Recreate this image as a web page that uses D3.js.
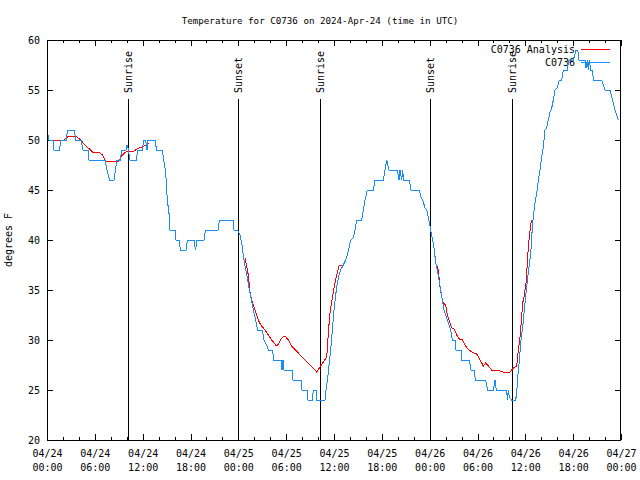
<!DOCTYPE html>
<html><head><meta charset="utf-8">
<script src="https://cdn.jsdelivr.net/npm/d3@7"></script>
<style>body{margin:0;background:#fff}svg{display:block}text{font-family:"DejaVu Sans Mono",monospace;fill:#000}</style>
</head><body><svg id="c" width="640" height="480"></svg>
<script>
// ---- data (hours since 2024-04-24 00:00 UTC) ----
const obsHours = [0.0,0.25,0.75,0.88,1.59,1.69,2.45,2.55,3.45,3.58,4.27,4.52,5.14,5.27,7.28,7.53,7.84,8.40,8.59,8.78,
9.22,9.35,9.91,10.04,10.22,10.41,11.23,11.35,11.98,12.10,12.36,12.54,12.67,13.55,13.74,14.49,14.55,14.89,15.09,15.30,
15.43,16.06,16.18,16.56,16.75,17.44,17.62,18.44,18.63,18.82,19.69,19.88,21.45,21.64,23.33,23.46,23.90,24.21,24.46,24.71,
24.93,25.18,25.38,25.63,25.88,26.18,26.43,27.01,27.22,27.56,27.76,28.31,28.41,29.35,29.48,29.60,29.73,30.73,30.86,31.86,
31.99,32.61,32.74,33.30,33.40,33.74,33.83,34.87,35.00,35.19,35.37,35.59,35.79,36.00,36.21,36.42,36.63,36.84,37.17,37.47,
37.67,37.88,38.10,38.42,38.64,38.85,39.48,39.68,39.89,40.18,40.93,41.14,42.19,42.40,42.61,42.74,42.90,43.94,44.15,44.28,
44.49,44.62,44.72,45.45,45.66,46.70,46.91,47.20,47.42,47.63,47.83,48.13,48.38,48.58,48.76,48.96,49.17,49.39,49.59,49.80,
50.01,50.21,50.43,50.64,50.84,51.18,51.30,51.93,52.02,52.97,53.19,53.60,53.73,55.03,55.28,55.98,56.20,56.36,57.66,57.74,
57.87,57.99,58.29,58.79,58.92,59.04,59.25,59.46,59.67,59.87,60.09,60.30,60.50,60.68,60.88,61.00,61.21,61.43,61.63,61.84,
62.05,62.26,62.47,62.68,62.88,63.10,63.31,63.51,63.72,64.01,64.26,64.56,64.76,65.31,65.39,66.02,66.36,66.57,66.73,67.49,
67.61,67.78,67.90,68.03,68.20,68.43,68.53,69.58,69.99,70.62,70.84,71.04,71.25,71.46,71.67];
const obsTemps = [51,50,50,49,49,50,50,51,51,50,50,49,49,48,48,47,46,46,47,48,
48,49,49,49.5,49,48,48,49,49,50,50,49,50,50,49,49,48.5,46.7,44,42.7,
41,41,40,40,39,39,40,40,39,40,40,41,41,42,42,41,41,40.5,39.5,38,
37,36,35,34,33,32,31,31,30,29.5,29,29,28,28,27,28,27,27,26,26,
25,25,24,24,25,25,24,24,25,26,27.5,29,31,33,34.5,35.7,36.5,37,37.5,38,
38.5,39.2,40,40.2,41,42,42,43,44,45,45,46,46,47,48,47.5,47,47,46,47,
46,47,46,46,45,45,44.3,43.8,43.2,43,42.3,41,40,39,37.7,37,36,35,34,33,
32.5,32,31.5,31,30,30,29,29,28,28,27,27,26,26,25,25,26,25,25,24,
25,24.3,24,24,24.8,26.2,28,30,31.3,33,34.7,36.3,37.5,38.7,41.3,42.3,43.7,44.7,46,47,
48.3,49.3,51,51.2,52,52.8,53.2,54,55,55.2,56,56,57,57,58,58,59,59,58,58,
57.2,58,57,58,57,57,56,56,55,55,54.3,53.7,53,52.5,52];

// analysis series: null marks a gap between segments
const anaHours = [0.38,2.13,2.55,3.60,4.23,4.73,5.48,5.68,6.52,6.94,7.36,7.78,8.12,9.03,9.45,9.87,10.50,10.91,11.54,11.95,12.38,12.79,
null,
24.84,25.25,25.46,25.68,26.09,26.51,26.81,27.35,27.76,28.19,28.69,28.94,29.44,29.85,30.27,30.69,31.32,31.74,32.36,32.99,33.40,33.83,34.24,34.66,35.09,35.19,35.37,35.50,35.71,35.91,36.13,36.34,36.63,36.97,
null,
48.76,49.09,49.30,49.51,49.71,50.01,50.21,50.43,50.76,51.09,51.39,51.72,52.14,52.65,53.27,53.90,54.32,54.73,55.03,55.57,55.78,56.41,57.24,58.08,58.49,58.92,59.12,59.33,59.54,59.67,59.83,60.09,60.25,60.38,60.50,60.68,60.78];
const anaTemps = [50,50,50.3,50.4,50,49.5,49,48.8,48.8,48.5,47.9,47.8,47.9,47.9,48.5,48.8,48.9,48.9,49.2,49.3,49.5,49.7,
null,
38.2,36.5,34.8,34,33,32,31.5,31,30.5,30,29.5,29.5,30.2,30.4,30,29.4,28.9,28.5,28,27.5,27.2,26.8,27.3,27.8,28.3,29.5,31.5,32.7,33.8,34.8,35.7,36.5,37.4,37.5,
null,
37.7,37,35.3,34.3,33.7,33.5,32.5,32,31.2,31.1,30.5,30.1,30,29.2,28.8,28.6,28,27.4,27.7,27.2,27,27,26.8,26.8,27.2,27.4,29,30.3,32.3,33.7,34.3,35.7,37.7,39.3,40.3,41.5,42];

const eventHours = [10.16, 23.96, 34.24, 47.98, 58.27];
const eventLabels = ["Sunrise","Sunset","Sunrise","Sunset","Sunrise"];
const yTicks = [20,25,30,35,40,45,50,55,60];
const titleText = "Temperature for C0736 on 2024-Apr-24 (time in UTC)";
const seriesNames = ["C0736 Analysis","C0736"];
const seriesColors = ["#ff0000","#1a8cf8"];

// ---- drawing ----
const t0 = Date.UTC(2024,3,24);
const toDate = h => new Date(t0 + h*3600e3);
const L=47, R=621, T=40, B=440;
const svg = d3.select("#c");
const x = d3.scaleUtc().domain([toDate(0), toDate(72)]).range([L,R]);
const y = d3.scaleLinear().domain([20,60]).range([B,T]);

// title
svg.append("text").attr("x",320).attr("y",24).attr("text-anchor","middle")
  .style("font-size","9.2px").text(titleText);

// y label
svg.append("text").attr("transform","translate(12,240) rotate(-90)")
  .attr("text-anchor","middle").style("font-size","10px").text("degrees F");

// axes
const major = d3.utcHour.every(6).range(toDate(0), toDate(72.01));
const minor = d3.utcHour.every(2).range(toDate(0), toDate(72.01));
function styleAxis(g){g.select(".domain").remove();g.selectAll("line").attr("stroke","#000").attr("shape-rendering","crispEdges");}
svg.append("g").attr("transform",`translate(0,${B})`)
  .call(d3.axisBottom(x).tickValues(minor).tickSize(-3).tickFormat("")).call(styleAxis);
svg.append("g").attr("transform",`translate(0,${T})`)
  .call(d3.axisTop(x).tickValues(minor).tickSize(-3).tickFormat("")).call(styleAxis);
const xb = svg.append("g").attr("transform",`translate(0,${B})`)
  .call(d3.axisBottom(x).tickValues(major).tickSize(-6).tickPadding(0).tickFormat(d3.utcFormat("%m/%d"))).call(styleAxis);
xb.selectAll(".tick text").each(function(d){
  const s=d3.select(this); s.text(null).attr("y",null).attr("dy",null)
    .style("font-size","10px").style("font-family","DejaVu Sans Mono");
  s.append("tspan").attr("x",0).attr("y",17).text(d3.utcFormat("%m/%d")(d));
  s.append("tspan").attr("x",0).attr("y",31).text(d3.utcFormat("%H:%M")(d));
});
svg.append("g").attr("transform",`translate(0,${T})`)
  .call(d3.axisTop(x).tickValues(major).tickSize(-6).tickFormat("")).call(styleAxis);
svg.append("g").attr("transform",`translate(${L},0)`)
  .call(d3.axisLeft(y).tickValues(yTicks).tickSize(-6).tickPadding(7).tickFormat(d3.format("d")))
  .call(styleAxis)
  .selectAll("text").style("font-size","10px").style("font-family","DejaVu Sans Mono");
svg.append("g").attr("transform",`translate(${R},0)`)
  .call(d3.axisRight(y).tickValues(yTicks).tickSize(-6).tickFormat("")).call(styleAxis);

// event lines
eventHours.forEach((h,i)=>{
  const xx = Math.round(x(toDate(h)))+0.5;
  svg.append("line").attr("x1",xx).attr("x2",xx).attr("y1",B).attr("y2",99)
    .attr("stroke","#000").attr("stroke-width",1);
  svg.append("text").attr("transform",`translate(${xx},93) rotate(-90)`)
    .attr("dy","0.36em").style("font-size","10px").text(eventLabels[i]);
});

// legend
seriesNames.forEach((n,i)=>{
  const yy = 49 + i*13;
  svg.append("text").attr("x",575).attr("y",yy+3.5).attr("text-anchor","end")
    .style("font-size","10px").text(n);
  svg.append("line").attr("x1",581).attr("x2",610).attr("y1",yy+0.5).attr("y2",yy+0.5)
    .attr("stroke",seriesColors[i]).attr("shape-rendering","crispEdges");
});

// data lines
const line = d3.line().defined(d=>d[0]!=null && d[1]!=null)
  .x(d=>x(toDate(d[0]))).y(d=>y(d[1]));
svg.append("path").datum(d3.zip(anaHours, anaTemps))
  .attr("d",line).attr("fill","none").attr("stroke",seriesColors[0]).attr("stroke-width",1)
  .attr("shape-rendering","crispEdges");
svg.append("path").datum(d3.zip(obsHours, obsTemps))
  .attr("d",line).attr("fill","none").attr("stroke",seriesColors[1]).attr("stroke-width",1)
  .attr("shape-rendering","crispEdges");

// frame
svg.append("rect").attr("x",L+0.5).attr("y",T+0.5).attr("width",R-L-1).attr("height",B-T)
  .attr("fill","none").attr("stroke","#000");
</script></body></html>
